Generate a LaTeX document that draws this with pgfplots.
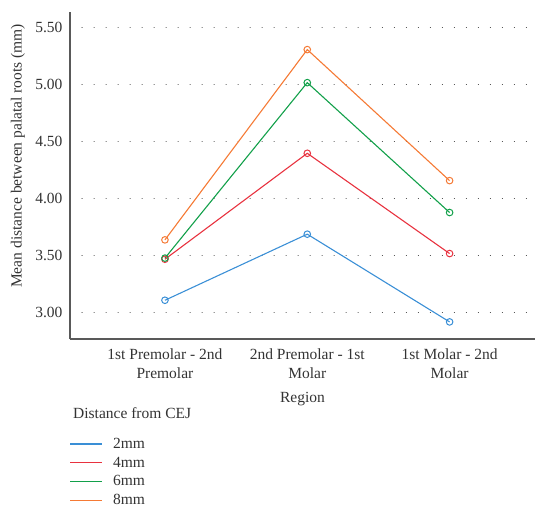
\documentclass[border=0pt]{standalone}
\usepackage{pgfplots}
\pgfplotsset{compat=1.18}
\usepackage{fontspec}
\setmainfont{Liberation Serif}
\definecolor{txt}{HTML}{333333}
\definecolor{c2}{HTML}{3A8FD6}
\definecolor{c4}{HTML}{E8323F}
\definecolor{c6}{HTML}{12A04A}
\definecolor{c8}{HTML}{F57A35}
\newcommand{\fs}{\fontsize{15.5}{19.5}\selectfont}
\begin{document}
\begin{tikzpicture}
\useasboundingbox (-70pt,-169pt) rectangle (465pt,339pt);
\begin{axis}[
  at={(0,0)}, anchor=south west,
  scale only axis,
  width=465pt, height=327pt,
  xmin=-0.667, xmax=2.6,
  ymin=2.77, ymax=5.64,
  axis x line=bottom, axis y line=left,
  axis line style={-, draw=black!65, line width=1.3pt},
  xtick={0,1,2},
  xticklabels={{1st Premolar - 2nd\\Premolar},{2nd Premolar - 1st\\Molar},{1st Molar - 2nd\\Molar}},
  xticklabel style={align=center, font=\fs, text=txt, yshift=-6pt},
  ytick={3,3.5,4,4.5,5,5.5},
  yticklabel style={font=\fs, text=txt, xshift=-4pt},
  /pgf/number format/assume math mode=true,
  /pgf/number format/.cd, fixed, fixed zerofill, precision=2, /pgfplots/.cd,
  major tick length=0pt,
  ymajorgrids,
  major grid style={draw=black!80, line width=1pt, dash pattern=on 0.01pt off 12pt, line cap=round, dash phase=-12pt},
  xlabel={Region},
  xlabel style={at={(axis description cs:0.5,-0.183)}, anchor=center, font=\fs, text=txt},
  ylabel={Mean distance between palatal roots (mm)},
  ylabel style={at={(axis description cs:-0.112,0.56)}, anchor=center, font=\fs, text=txt},
  every axis plot/.append style={line width=1.1pt, mark=o, mark size=3.3pt, mark options={solid, line width=1pt}},
  legend style={at={(0,-0.297)}, anchor=north west, draw=none, fill=none,
    font=\fs, row sep=3pt, column sep=9pt,
    inner sep=0pt, outer sep=0pt},
  legend cell align=left,
  legend image code/.code={\fill[#1, draw=none] (0pt,-0.7pt) rectangle (32pt,0.7pt);},
  clip=false,
]
\addplot[c2] coordinates {(0,3.11) (1,3.69) (2,2.92)};
\addlegendentry{\textcolor{txt}{2mm}}
\addplot[c4] coordinates {(0,3.47) (1,4.40) (2,3.52)};
\addlegendentry{\textcolor{txt}{4mm}}
\addplot[c6] coordinates {(0,3.48) (1,5.02) (2,3.88)};
\addlegendentry{\textcolor{txt}{6mm}}
\addplot[c8] coordinates {(0,3.64) (1,5.31) (2,4.16)};
\addlegendentry{\textcolor{txt}{8mm}}
\end{axis}
\node[anchor=west, text=txt, font=\fs, inner sep=0pt] at (3pt,-74pt) {Distance from CEJ};
\end{tikzpicture}
\end{document}
